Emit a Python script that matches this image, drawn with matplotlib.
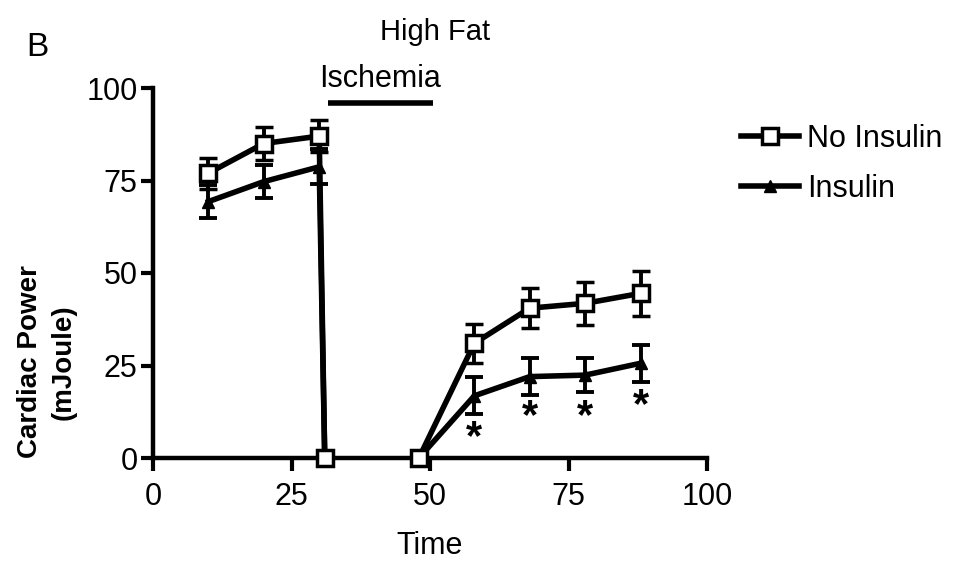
import matplotlib
matplotlib.use("Agg")
import matplotlib.pyplot as plt
from matplotlib.lines import Line2D

plt.rcParams['font.family'] = ['Liberation Sans', 'DejaVu Sans']

# Data
pre_x_no = [10, 20, 30, 31]
pre_y_no = [77, 85, 87, 0]
pre_e_no = [4.2, 4.5, 4.3, 0]
post_x_no = [48, 58, 68, 78, 88]
post_y_no = [0, 31, 40.5, 41.8, 44.5]
post_e_no = [0, 5.2, 5.4, 5.8, 6.0]

pre_x_in = [10, 20, 30, 31]
pre_y_in = [69.3, 74.7, 78.7, 0]
pre_e_in = [4.5, 4.5, 4.7, 0]
post_x_in = [48, 58, 68, 78, 88]
post_y_in = [0, 16.8, 22, 22.4, 25.6]
post_e_in = [0, 5, 5, 4.6, 5]

star_x = [58, 68, 78, 88]
star_y = [5.5, 11, 11, 14]

xticks = [0, 25, 50, 75, 100]
yticks = [0, 25, 50, 75, 100]

W, H = 968, 561
fig = plt.figure(figsize=(W/100, H/100), dpi=100)
ax = fig.add_axes([153/W, 1-458/H, (707-153)/W, (458-88)/H])

lw = 4
for xs, ys, es in [(pre_x_in, pre_y_in, pre_e_in), (post_x_in, post_y_in, post_e_in)]:
    ax.errorbar(xs, ys, yerr=es, color='black', lw=lw, marker='^', ms=9,
                mfc='black', mec='black', capsize=6.5, elinewidth=2.8, capthick=2.8,
                clip_on=False, zorder=3)
for xs, ys, es in [(pre_x_no, pre_y_no, pre_e_no), (post_x_no, post_y_no, post_e_no)]:
    ax.errorbar(xs, ys, yerr=es, color='black', lw=lw, marker='s', ms=11,
                mfc='white', mec='black', mew=2.5, capsize=6.5, elinewidth=2.8, capthick=2.8,
                clip_on=False, zorder=4)

for sx, sy in zip(star_x, star_y):
    ax.text(sx, sy, '*', ha='center', va='center', fontsize=30, fontweight='bold')

ax.set_xlim(0, 100)
ax.set_ylim(0, 100)
ax.set_xticks(xticks)
ax.set_yticks(yticks)
ax.tick_params(labelsize=22, width=3, length=9, direction='out')
ax.tick_params(axis='x', pad=8)
ax.tick_params(axis='y', pad=2)
for s in ['top', 'right']:
    ax.spines[s].set_visible(False)
for s in ['left', 'bottom']:
    ax.spines[s].set_linewidth(3.2)

# Ischemia bar
ax.plot([31.5, 50.5], [96, 96], color='black', lw=4, clip_on=False, solid_capstyle='butt')
ax.text(41, 102.5, 'Ischemia', ha='center', va='center', fontsize=22, clip_on=False)

ax.set_xlabel('Time', fontsize=22, labelpad=14)

fig.text(30/W, 1-362/H, 'Cardiac Power', rotation=90, ha='center', va='center',
         fontsize=20, fontweight='bold')
fig.text(64/W, 1-362/H, '(mJoule)', rotation=90, ha='center', va='center',
         fontsize=20, fontweight='bold')
fig.text(435/W, 1-32/H, 'High Fat', ha='center', va='center', fontsize=21)
fig.text(37/W, 1-47/H, 'B', ha='center', va='center', fontsize=24)

handles = [Line2D([], [], color='black', lw=lw, marker='s', ms=11, mfc='white', mec='black', mew=2.5),
           Line2D([], [], color='black', lw=lw, marker='^', ms=9, mfc='black')]
fig.legend(handles, ['No Insulin', 'Insulin'], loc='upper left', bbox_to_anchor=(741/W, 1-124/H),
           frameon=False, fontsize=22, handlelength=1.9, handletextpad=0.25, labelspacing=0.65,
           borderaxespad=0, borderpad=0)

fig.savefig('out.png', dpi=100)
